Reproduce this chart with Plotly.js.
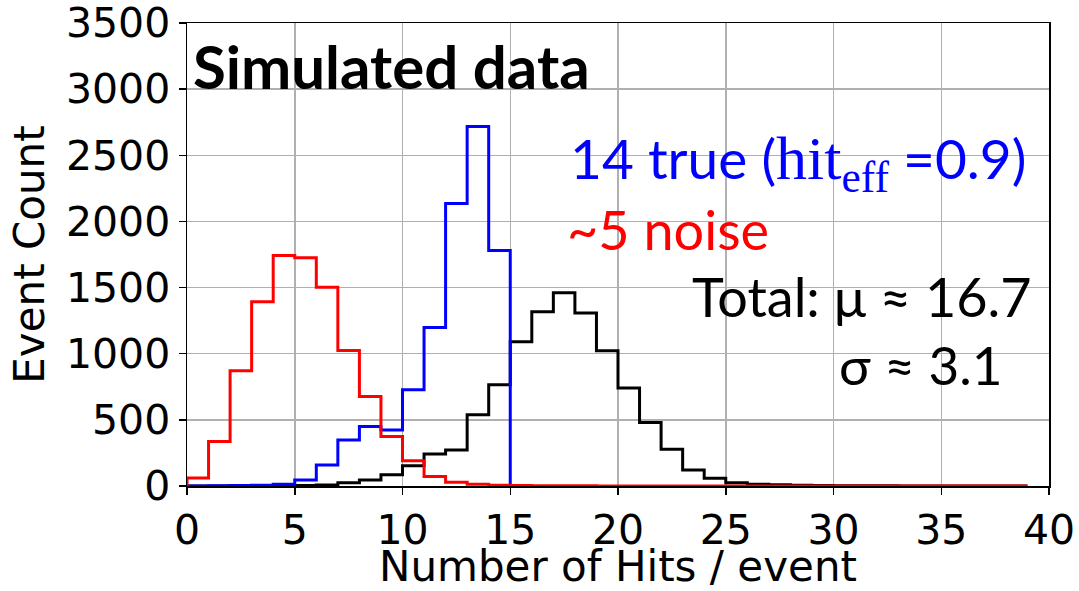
<!DOCTYPE html>
<html>
<head>
<meta charset="utf-8">
<script src="https://cdn.plot.ly/plotly-3.0.1.min.js"></script>
<style>html,body{margin:0;padding:0;background:#fff;}#chart{width:1079px;height:591px;}</style>
</head>
<body>
<div id="chart"></div>
<script>
// Histogram counts per unit-wide bin starting at 0
const noiseCounts = [60, 336, 871, 1392, 1742, 1725, 1502, 1025, 677, 374, 190, 72, 28, 14, 6, 3, 2, 1, 1, 0,
                     0, 0, 0, 0, 0, 0, 0, 0, 0, 0, 0, 0, 0, 0, 0, 0, 0, 0, 0];
const trueCounts = [0, 1, 3, 6, 14, 45, 159, 348, 449, 424, 727, 1199, 2136, 2717, 1780];
const totalCounts = [0, 0, 0, 1, 2, 3, 8, 25, 45, 85, 154, 242, 273, 538, 765, 1090, 1318, 1460, 1308, 1023,
                     740, 480, 278, 121, 58, 25, 13, 10, 5, 3, 2, 1, 1, 0, 0, 0, 0, 0, 0];
const xTicks = [0, 5, 10, 15, 20, 25, 30, 35, 40];
const yTicks = [0, 500, 1000, 1500, 2000, 2500, 3000, 3500];

function stepOutline(counts) {
  const x = [0], y = [0];
  for (let i = 0; i < counts.length; i++) { x.push(i); y.push(counts[i]); }
  x.push(counts.length); y.push(0);
  return {x, y};
}

function stepTrace(counts, color) {
  const s = stepOutline(counts);
  return {x: s.x, y: s.y, type: 'scatter', mode: 'lines',
          line: {shape: 'hv', color: color, width: 3}, hoverinfo: 'skip', showlegend: false};
}

const data = [
  stepTrace(totalCounts, '#000000'),
  stepTrace(trueCounts, '#0000ff'),
  stepTrace(noiseCounts, '#ff0000')
];

const tickFont = {family: 'DejaVu Sans', size: 41, color: '#000'};
const titleFont = {family: 'DejaVu Sans', size: 42, color: '#000'};
const annFont = 'Lato';
const L = 187, R = 1049, T = 23, B = 486;
function px(x) { return (x - L) / (R - L); }
function py(y) { return (B - y) / (B - T); }

const axisCommon = {
  ticks: 'outside', ticklen: 7, tickwidth: 1.5, tickcolor: '#000',
  showline: true, linecolor: '#000', linewidth: 1.5, mirror: true,
  showgrid: true, gridcolor: '#b0b0b0', gridwidth: 1.5, zeroline: false,
  tickfont: tickFont, automargin: false, ticklabeloverflow: 'allow'
};

const layout = {
  width: 1079, height: 591,
  margin: {l: 187, r: 30, t: 23, b: 105, pad: 0},
  paper_bgcolor: '#fff', plot_bgcolor: '#fff',
  xaxis: Object.assign({}, axisCommon, {
    range: [0, 40], tickvals: xTicks, ticktext: xTicks.map(String),
    title: {text: 'Number of Hits / event', font: titleFont, standoff: 8}
  }),
  yaxis: Object.assign({}, axisCommon, {
    range: [0, 3500], tickvals: yTicks, ticktext: yTicks.map(String),
    title: {text: 'Event Count', font: titleFont, standoff: 8}
  }),
  annotations: [
    {xref: 'paper', yref: 'paper', x: px(191), y: py(66), xanchor: 'left', yanchor: 'middle', showarrow: false,
     text: '<b>Simulated data</b>', font: {family: annFont, size: 60, color: '#000'}},
    {xref: 'paper', yref: 'paper', x: px(568), y: py(162), xanchor: 'left', yanchor: 'middle', showarrow: false,
     text: '14 true (<span style="font-family:Liberation Serif;font-size:62px">hit<sub>eff</sub></span> =0.9)',
     font: {family: annFont, size: 55, color: '#0000ff'}},
    {xref: 'paper', yref: 'paper', x: px(565), y: py(230), xanchor: 'left', yanchor: 'middle', showarrow: false,
     text: '~5 noise', font: {family: annFont, size: 54, color: '#ff0000'}},
    {xref: 'paper', yref: 'paper', x: px(690), y: py(296), xanchor: 'left', yanchor: 'middle', showarrow: false,
     text: 'Total: μ ≈ 16.7', font: {family: annFont, size: 54, color: '#000'}},
    {xref: 'paper', yref: 'paper', x: px(837), y: py(364), xanchor: 'left', yanchor: 'middle', showarrow: false,
     text: 'σ ≈ 3.1', font: {family: annFont, size: 53, color: '#000'}}
  ]
};

Plotly.newPlot('chart', data, layout, {staticPlot: true, displayModeBar: false});
</script>
</body>
</html>
